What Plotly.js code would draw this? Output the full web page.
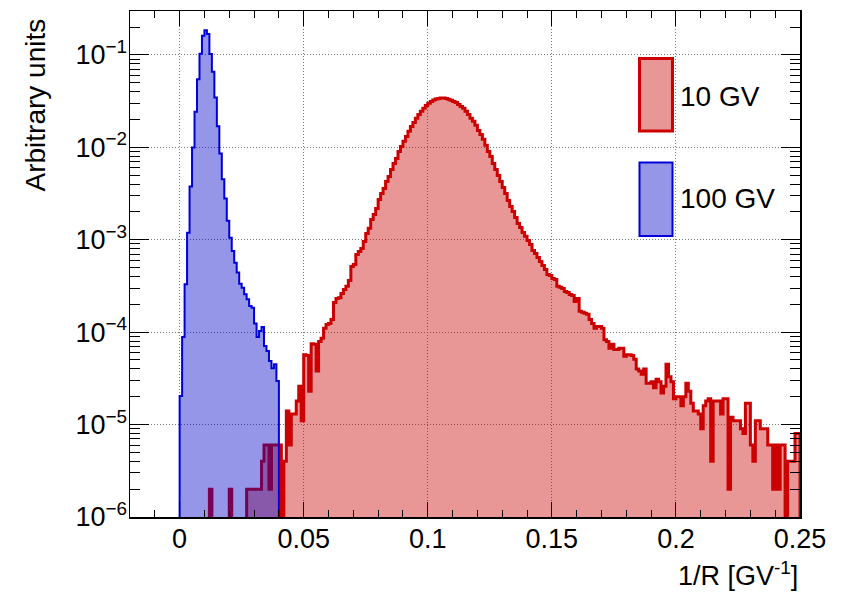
<!DOCTYPE html>
<html>
<head>
<meta charset="utf-8">
<script src="https://cdn.plot.ly/plotly-3.0.1.min.js"></script>
<style>
  html, body { margin: 0; padding: 0; background: #ffffff; }
  #chart { width: 851px; height: 593px; }
</style>
</head>
<body>
<div id="chart"></div>
<script>
// Histogram binning: 1/R in GV^-1, fixed-width bins starting at 0
const binWidth = 0.001;
const firstEdge = 0.0;

// Series labels
const seriesNames = ["10 GV", "100 GV"];

// 10 GV sample, bin contents (arbitrary units), bins 0.000 ... 0.250
const counts10GV = [
  0, 0, 0, 0, 0, 0, 0, 0, 0, 0,
  0, 0, 2e-6, 0, 0, 0, 0, 0, 0, 0,
  2e-6, 0, 0, 0, 0, 0, 0, 2e-6, 2e-6, 2e-6,
  2e-6, 2e-6, 2e-6, 4e-6, 6e-6, 6e-6, 2e-6, 6e-6, 6e-6, 6e-6,
  6e-6, 0, 4e-6, 1.4e-5, 6e-6, 1.3e-5, 1.3e-5, 1.8e-5, 2.6e-5, 1.1e-5,
  5.7e-5, 5.6e-5, 2.3e-5, 7.5e-5, 7.4e-5, 3.8e-5, 7.9e-5, 8.6e-5, 1.10e-4, 1.21e-4,
  1.24e-4, 1.37e-4, 2.10e-4, 2.32e-4, 2.36e-4, 2.62e-4, 2.90e-4, 3.13e-4, 3.63e-4, 5.14e-4,
  5.41e-4, 6.93e-4, 7.47e-4, 8.05e-4, 9.59e-4, 1.17e-3, 1.33e-3, 1.66e-3, 1.88e-3, 2.18e-3,
  2.73e-3, 3.17e-3, 3.59e-3, 4.28e-3, 4.84e-3, 5.77e-3, 6.70e-3, 7.59e-3, 9.03e-3, 1.02e-2,
  1.16e-2, 1.31e-2, 1.49e-2, 1.68e-2, 1.86e-2, 2.06e-2, 2.27e-2, 2.45e-2, 2.64e-2, 2.84e-2,
  2.99e-2, 3.14e-2, 3.26e-2, 3.34e-2, 3.38e-2, 3.41e-2, 3.41e-2, 3.38e-2, 3.32e-2, 3.24e-2,
  3.14e-2, 3.05e-2, 2.91e-2, 2.77e-2, 2.64e-2, 2.45e-2, 2.27e-2, 2.06e-2, 1.91e-2, 1.73e-2,
  1.52e-2, 1.38e-2, 1.22e-2, 1.05e-2, 9.03e-3, 7.97e-3, 6.70e-3, 5.77e-3, 4.97e-3, 4.28e-3,
  3.68e-3, 3.17e-3, 2.66e-3, 2.29e-3, 2.02e-3, 1.74e-3, 1.50e-3, 1.36e-3, 1.20e-3, 1.09e-3,
  9.83e-4, 8.89e-4, 7.66e-4, 7.11e-4, 6.43e-4, 5.82e-4, 5.27e-4, 4.77e-4, 4.21e-4, 4.11e-4,
  3.81e-4, 3.72e-4, 3.13e-4, 3.06e-4, 2.97e-4, 2.75e-4, 2.69e-4, 2.56e-4, 2.50e-4, 2.15e-4,
  2.32e-4, 1.68e-4, 1.64e-4, 1.60e-4, 1.56e-4, 1.37e-4, 1.24e-4, 1.10e-4, 1.15e-4, 1.15e-4,
  1.10e-4, 8.3e-5, 7.9e-5, 6.7e-5, 7.4e-5, 6.5e-5, 6.5e-5, 6.7e-5, 6.7e-5, 5.5e-5,
  5.7e-5, 5.7e-5, 5.6e-5, 5.1e-5, 4.0e-5, 3.8e-5, 3.5e-5, 4.0e-5, 2.8e-5, 2.8e-5,
  2.9e-5, 2.5e-5, 3.1e-5, 2.9e-5, 2.2e-5, 2.6e-5, 4.5e-5, 3.3e-5, 2.9e-5, 1.9e-5,
  2.0e-5, 2.0e-5, 1.6e-5, 2.0e-5, 2.8e-5, 2.3e-5, 1.7e-5, 1.4e-5, 1.4e-5, 1.3e-5,
  9e-6, 1.6e-5, 1.8e-5, 1.9e-5, 4e-6, 1.8e-5, 1.8e-5, 1.8e-5, 1.3e-5, 1.9e-5,
  1.9e-5, 2e-6, 1.2e-5, 1.1e-5, 1.1e-5, 1.1e-5, 9e-6, 8e-6, 1.7e-5, 1.7e-5,
  6e-6, 4e-6, 1.1e-5, 1.1e-5, 9e-6, 9e-6, 9e-6, 6e-6, 6e-6, 2e-6,
  6e-6, 2e-6, 6e-6, 6e-6, 0, 4e-6, 4e-6, 4e-6, 8e-6, 8e-6
];

// 100 GV sample, bin contents (arbitrary units), bins 0.000 ... 0.040
const counts100GV = [
  2.04e-5, 8.87e-5, 3.30e-4, 1.19e-3, 3.76e-3, 9.93e-3, 2.43e-2, 5.46e-2, 0.103, 0.161,
  0.185, 0.168, 0.102, 6.59e-2, 3.45e-2, 1.69e-2, 8.55e-3, 4.52e-3, 2.79e-3, 1.60e-3,
  1.05e-3, 7.57e-4, 5.65e-4, 4.41e-4, 3.35e-4, 3.03e-4, 2.57e-4, 2.27e-4, 1.92e-4, 1.84e-4,
  1.24e-4, 8.87e-5, 1.03e-4, 1.14e-4, 7.10e-5, 6.26e-5, 4.88e-5, 4.07e-5, 4.50e-5, 2.96e-5
];

// Axis tick labels
const yTickValues = [1e-6, 1e-5, 1e-4, 1e-3, 1e-2, 1e-1];
const yTickLabels = ["10<sup>−6</sup>", "10<sup>−5</sup>", "10<sup>−4</sup>",
                     "10<sup>−3</sup>", "10<sup>−2</sup>", "10<sup>−1</sup>"];

// Empty bins sit far below the visible log range so the outline drops to the floor
const EMPTY = 1e-9;

// Build a closed step outline (ROOT "hist" style) from bin contents
function stepOutline(start, width, vals) {
  const xs = [start], ys = [EMPTY];
  vals.forEach((v, i) => {
    xs.push(start + i * width);
    ys.push(v > 0 ? v : EMPTY);
  });
  const end = start + vals.length * width;
  const last = vals[vals.length - 1];
  xs.push(end); ys.push(last > 0 ? last : EMPTY);
  xs.push(end); ys.push(EMPTY);
  return { xs, ys };
}

const red = stepOutline(firstEdge, binWidth, counts10GV);
const blue = stepOutline(firstEdge, binWidth, counts100GV);

const RED_LINE = "#cc0000";
const RED_FILL = "rgba(200,0,0,0.41)";
const BLUE_LINE = "#0000d8";
const BLUE_FILL = "rgba(0,0,200,0.41)";
const FONT = "'Liberation Sans', Arial, Helvetica, sans-serif";

const traces = [
  {
    x: red.xs, y: red.ys, name: seriesNames[0],
    type: "scatter", mode: "lines",
    line: { shape: "hv", color: RED_LINE, width: 3 },
    fill: "toself", fillcolor: RED_FILL,
    hoverinfo: "skip", showlegend: false
  },
  {
    x: blue.xs, y: blue.ys, name: seriesNames[1],
    type: "scatter", mode: "lines",
    line: { shape: "hv", color: BLUE_LINE, width: 2 },
    fill: "toself", fillcolor: BLUE_FILL,
    hoverinfo: "skip", showlegend: false
  }
];

// Minor log ticks (2..9 in every decade)
const yMinor = [];
for (let e = -6; e <= -1; e++) {
  for (let m = 2; m <= 9; m++) yMinor.push(m * Math.pow(10, e));
}

// Pixel helpers for the legend boxes (plot area: 130..800 x 11..517)
const px2x = p => (p - 130) / 670;
const px2y = p => (517 - p) / 506;

const layout = {
  width: 851, height: 593,
  margin: { l: 130, r: 51, t: 11, b: 76, pad: 0 },
  paper_bgcolor: "#ffffff",
  plot_bgcolor: "#ffffff",
  font: { family: FONT, size: 27, color: "#000000" },
  showlegend: false,
  xaxis: {
    range: [-0.02, 0.25],
    tickmode: "linear", tick0: 0, dtick: 0.05,
    ticks: "inside", ticklen: 15, tickwidth: 1, tickcolor: "#000",
    mirror: "allticks", showline: true, linecolor: "#000", linewidth: 1.5,
    showgrid: true, gridcolor: "#7a7a7a", gridwidth: 1, griddash: "1px,2px",
    zeroline: false,
    tickfont: { family: FONT, size: 27, color: "#000" },
    ticklabelstandoff: -3,
    minor: { tickmode: "linear", tick0: 0, dtick: 0.01, ticks: "inside",
             ticklen: 7, tickwidth: 1, tickcolor: "#000", showgrid: false }
  },
  yaxis: {
    type: "log",
    range: [-6, -0.525],
    tickmode: "array", tickvals: yTickValues, ticktext: yTickLabels,
    ticks: "inside", ticklen: 19, tickwidth: 1, tickcolor: "#000",
    mirror: "allticks", showline: true, linecolor: "#000", linewidth: 1.5,
    showgrid: true, gridcolor: "#7a7a7a", gridwidth: 1, griddash: "1px,2px",
    zeroline: false,
    tickfont: { family: FONT, size: 27, color: "#000" },
    ticklabelstandoff: -4,
    minor: { tickmode: "array", tickvals: yMinor, ticks: "inside",
             ticklen: 10, tickwidth: 1, tickcolor: "#000", showgrid: false }
  },
  shapes: [
    { type: "rect", xref: "paper", yref: "paper",
      x0: px2x(639.5), x1: px2x(672.5), y0: px2y(131), y1: px2y(58.5),
      line: { color: RED_LINE, width: 3 }, fillcolor: RED_FILL },
    { type: "rect", xref: "paper", yref: "paper",
      x0: px2x(639.5), x1: px2x(672.5), y0: px2y(236), y1: px2y(162.5),
      line: { color: BLUE_LINE, width: 2 }, fillcolor: BLUE_FILL }
  ],
  annotations: [
    { text: seriesNames[0], xref: "paper", yref: "paper",
      x: px2x(678), y: px2y(96), xanchor: "left", yanchor: "middle",
      showarrow: false, font: { family: FONT, size: 28, color: "#000" } },
    { text: seriesNames[1], xref: "paper", yref: "paper",
      x: px2x(678), y: px2y(199), xanchor: "left", yanchor: "middle",
      showarrow: false, font: { family: FONT, size: 28, color: "#000" } },
    { text: "Arbitrary units", xref: "paper", yref: "paper",
      x: px2x(35), y: px2y(17), xanchor: "center", yanchor: "top",
      textangle: -90, showarrow: false,
      font: { family: FONT, size: 28, color: "#000" } },
    { text: "1/R [GV<sup>-1</sup>]", xref: "paper", yref: "paper",
      x: 1.0, y: px2y(574), xanchor: "right", yanchor: "middle",
      showarrow: false, font: { family: FONT, size: 27, color: "#000" } }
  ]
};

Plotly.newPlot("chart", traces, layout, { staticPlot: true, displayModeBar: false });
</script>
</body>
</html>
